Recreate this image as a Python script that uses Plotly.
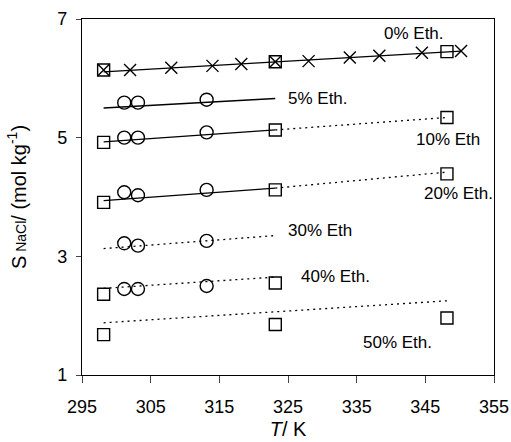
import plotly.graph_objects as go

# ---- data ----
T_cross0 = [298.15, 302.0, 308.0, 314.0, 318.2, 323.15, 328.0, 334.0, 338.3, 344.5, 350.2]
S_cross0 = [6.14, 6.14, 6.18, 6.21, 6.24, 6.28, 6.29, 6.35, 6.38, 6.43, 6.46]

T_sq = [298.15, 323.15, 348.15]
S_sq0 = [6.14, 6.28, 6.45]
S_sq10 = [4.92, 5.13, 5.34]
S_sq20 = [3.91, 4.12, 4.39]
T_sq40 = [298.15, 323.15]
S_sq40 = [2.36, 2.55]
S_sq50 = [1.68, 1.85, 1.96]

T_circ = [301.15, 303.15, 313.15]
S_circ5 = [5.59, 5.59, 5.64]
S_circ10 = [5.00, 5.00, 5.09]
S_circ20 = [4.08, 4.03, 4.12]
S_circ30 = [3.22, 3.18, 3.26]
S_circ40 = [2.45, 2.45, 2.50]

# fitted lines (endpoints)
fit0_T, fit0_S = [298.15, 350.2], [6.11, 6.46]
fit5_T, fit5_S = [298.15, 323.15], [5.50, 5.66]
fit10_T, fit10_S = [298.15, 323.15], [4.93, 5.13]
fit10d_T, fit10d_S = [323.15, 348.15], [5.13, 5.34]
fit20_T, fit20_S = [298.15, 323.15], [3.94, 4.15]
fit20d_T, fit20d_S = [323.15, 348.15], [4.15, 4.42]
fit30_T, fit30_S = [298.15, 323.15], [3.13, 3.35]
fit40_T, fit40_S = [298.15, 323.15], [2.46, 2.65]
fit50_T, fit50_S = [298.15, 348.15], [1.88, 2.25]

labels = ["0% Eth.", "5% Eth.", "10% Eth", "20% Eth.", "30% Eth", "40% Eth.", "50% Eth."]
label_T = [343.3, 329.3, 348.3, 349.8, 329.7, 331.9, 341.0]
label_S = [6.75, 5.66, 4.97, 4.06, 3.44, 2.66, 1.54]

x_ticks = [295, 305, 315, 325, 335, 345, 355]
y_ticks = [1, 3, 5, 7]

FONT = "Liberation Sans, Arial, sans-serif"
fig = go.Figure()

def line(tx, sy, dash):
    fig.add_trace(go.Scatter(x=tx, y=sy, mode="lines",
                             line=dict(color="black", width=1.3, dash=dash),
                             showlegend=False, hoverinfo="skip"))

for tx, sy in [(fit0_T, fit0_S), (fit5_T, fit5_S), (fit10_T, fit10_S), (fit20_T, fit20_S)]:
    line(tx, sy, "solid")
for tx, sy in [(fit10d_T, fit10d_S), (fit20d_T, fit20d_S), (fit30_T, fit30_S),
               (fit40_T, fit40_S), (fit50_T, fit50_S)]:
    line(tx, sy, "2px,4px")

def pts(tx, sy, sym, size=12):
    fig.add_trace(go.Scatter(x=tx, y=sy, mode="markers",
                             marker=dict(symbol=sym, size=size, color="black",
                                         line=dict(color="black", width=1.4)),
                             showlegend=False))

pts(T_cross0, S_cross0, "x-thin-open", 12)
for sy in [S_sq0, S_sq10, S_sq20, S_sq50]:
    pts(T_sq, sy, "square-open", 12)
pts(T_sq40, S_sq40, "square-open", 12)
for sy in [S_circ5, S_circ10, S_circ20, S_circ30, S_circ40]:
    pts(T_circ, sy, "circle-open", 13)

for txt, tx, sy in zip(labels, label_T, label_S):
    fig.add_annotation(x=tx, y=sy, text=txt, showarrow=False,
                       font=dict(family=FONT, size=17, color="black"))

fig.update_layout(
    width=511, height=442,
    margin=dict(l=82, r=17, t=19, b=67),
    paper_bgcolor="white", plot_bgcolor="white",
    font=dict(family=FONT, size=18, color="black"),
    xaxis=dict(range=[295, 355], tickvals=x_ticks, ticks="outside", ticklen=7,
               ticklabelstandoff=8,
               showline=True, linecolor="black", linewidth=1.3, mirror=True,
               showgrid=False, zeroline=False, automargin=False,
               title=dict(text="<i>T</i>/ K", font=dict(size=20), standoff=6)),
    yaxis=dict(range=[1, 7], tickvals=y_ticks, ticks="outside", ticklen=5,
               ticklabelstandoff=5,
               showline=True, linecolor="black", linewidth=1.3, mirror=True,
               showgrid=False, zeroline=False, automargin=False,
               title=dict(text="S<span style='font-size:14px'> NaCl</span>/ (mol kg<sup>-1</sup>)",
                          font=dict(size=20), standoff=25)),
)

fig.write_html("out.html", config={"displayModeBar": False},
               post_script="document.body.style.margin='0px';document.body.style.overflow='hidden';")
